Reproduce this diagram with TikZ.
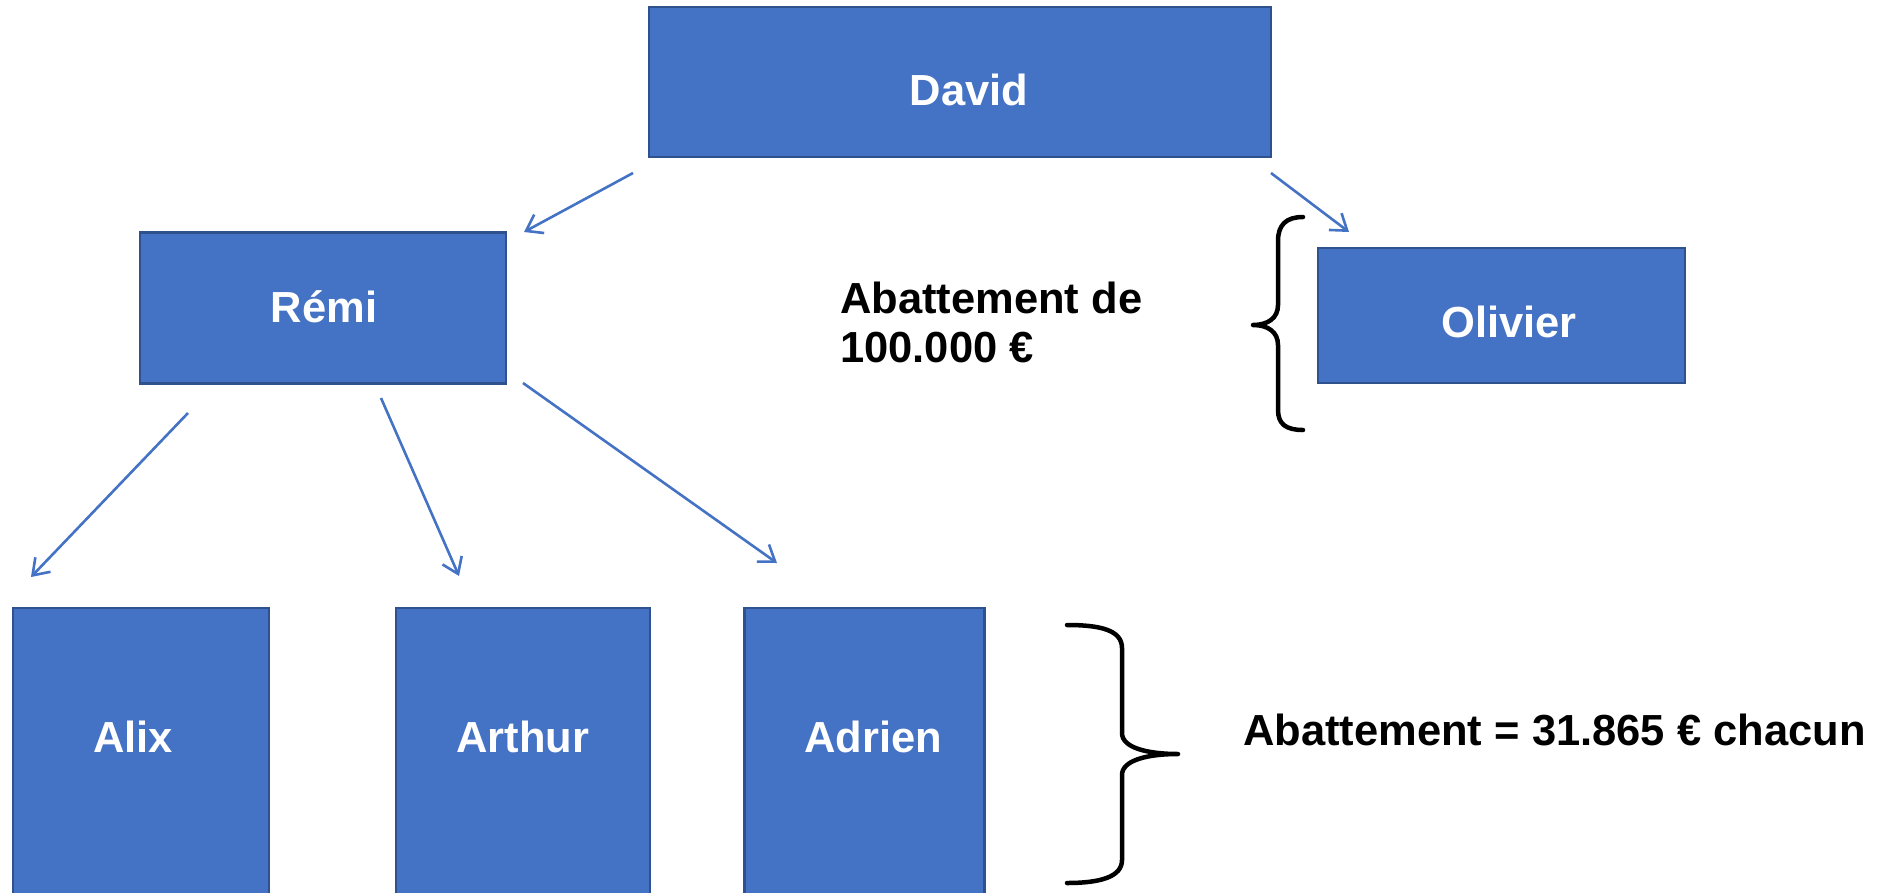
\documentclass[tikz,border=0pt]{standalone}
\usepackage{fontspec}
\setmainfont{Liberation Sans}
\usetikzlibrary{arrows.meta}
\definecolor{boxfill}{HTML}{4472C4}
\definecolor{boxline}{HTML}{2F528F}
\begin{document}
\begin{tikzpicture}[x=1pt,y=-1pt,
  person/.style={draw=boxline, fill=boxfill, line width=2.5pt, rectangle,
                 inner sep=0pt, outer sep=0pt},
  kinlabel/.style={text=white, font=\bfseries\fontsize{43.5}{49}\selectfont,
               anchor=base, inner sep=0pt},
  notetext/.style={text=black, font=\bfseries\fontsize{43.5}{49}\selectfont,
               anchor=base west, inner sep=0pt},
  link/.style={draw=boxfill, line width=2.6pt,
               -{Straight Barb[length=15pt,width=21pt,line width=2.6pt]}},
  curly/.style={draw=black, line width=4.5pt, line cap=round, line join=round}]
\useasboundingbox (0,0) rectangle (1880,892);
\clip (0,0) rectangle (1880,892);

% family boxes
\node[person, minimum width=622pt, minimum height=150pt] (david)   at (960,82)    {};
\node[person, minimum width=366pt, minimum height=151pt] (remi)    at (323,308)   {};
\node[person, minimum width=367pt, minimum height=135pt] (olivier) at (1501.5,315.5) {};
\node[person, minimum width=256pt, minimum height=300pt] (alix)    at (141,758)   {};
\node[person, minimum width=254pt, minimum height=300pt] (arthur)  at (523,758)   {};
\node[person, minimum width=240pt, minimum height=300pt] (adrien)  at (864.5,758) {};

% names
\node[kinlabel] (david-t)   at (969,105)  {David};
\node[kinlabel] (remi-t)    at (324,322)  {Rémi};
\node[kinlabel] (olivier-t) at (1509,337) {Olivier};
\node[kinlabel] (alix-t)    at (133,752)  {Alix};
\node[kinlabel] (arthur-t)  at (523,752)  {Arthur};
\node[kinlabel] (adrien-t)  at (873,752)  {Adrien};

% notes
\node[notetext] (note1a) at (840,313) {Abattement de};
\node[notetext] (note1b) at (840,362) {100.000 €};
\node[notetext] (note2)  at (1243,745) {Abattement = 31.865 € chacun};

% arrow ends
\coordinate (d-r-s) at (633,173);  \coordinate (d-r-e) at (524,232);
\coordinate (d-o-s) at (1271,173); \coordinate (d-o-e) at (1349,232);
\coordinate (r-a1-s) at (188,413); \coordinate (r-a1-e) at (31,577);
\coordinate (r-a2-s) at (381,398); \coordinate (r-a2-e) at (459,576);
\coordinate (r-a3-s) at (523,383); \coordinate (r-a3-e) at (777,563);

\draw[link] (d-r-s) -- (d-r-e);
\draw[link] (d-o-s) -- (d-o-e);
\draw[link] (r-a1-s) -- (r-a1-e);
\draw[link] (r-a2-s) -- (r-a2-e);
\draw[link] (r-a3-s) -- (r-a3-e);

% left curly brace beside Olivier
\draw[curly] (1303,217) .. controls (1286,217) and (1278,225) .. (1278,241)
  -- (1278,305) .. controls (1278,318) and (1268,325) .. (1253,325)
  .. controls (1268,325) and (1278,332) .. (1278,345)
  -- (1278,410) .. controls (1278,424) and (1286,430) .. (1303,430);

% right curly brace beside the grandchildren
\draw[curly] (1067,625) .. controls (1100,625) and (1122,630) .. (1122,648)
  -- (1122,733) .. controls (1122,748) and (1148,754) .. (1178,754)
  .. controls (1148,754) and (1122,760) .. (1122,775)
  -- (1122,860) .. controls (1122,877) and (1100,883) .. (1067,883);
\end{tikzpicture}
\end{document}
